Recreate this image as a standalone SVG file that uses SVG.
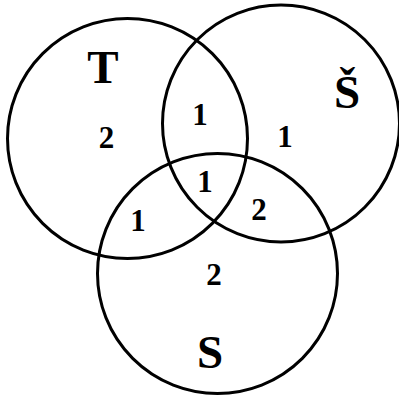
<svg xmlns="http://www.w3.org/2000/svg" width="399" height="398" viewBox="0 0 399 398">
<style>
.c{fill:none;stroke:#000;stroke-width:3}
.L{font-family:"Liberation Serif","Times New Roman",serif;font-weight:bold;font-size:47px;text-anchor:middle;fill:#000}
.n{font-family:"Liberation Serif","Times New Roman",serif;font-weight:bold;font-size:31px;text-anchor:middle;fill:#000}
</style>
<rect width="399" height="398" fill="#fff"/>
<g id="connectors"></g>
<g id="setT"><circle class="c" cx="127.5" cy="138.5" r="120"/><text class="L" x="103" y="83">T</text></g>
<g id="setS-caron"><circle class="c" cx="281" cy="123.5" r="118.5"/><text class="L" x="347" y="108">Š</text></g>
<g id="setS"><circle class="c" cx="217.5" cy="273.5" r="120"/><text class="L" x="210" y="368">S</text></g>
<g id="counts">
<text class="n" x="106.5" y="148">2</text>
<text class="n" x="200" y="125">1</text>
<text class="n" x="285" y="147">1</text>
<text class="n" x="205" y="192">1</text>
<text class="n" x="138" y="231">1</text>
<text class="n" x="259" y="220">2</text>
<text class="n" x="214" y="285">2</text>
</g>
</svg>
